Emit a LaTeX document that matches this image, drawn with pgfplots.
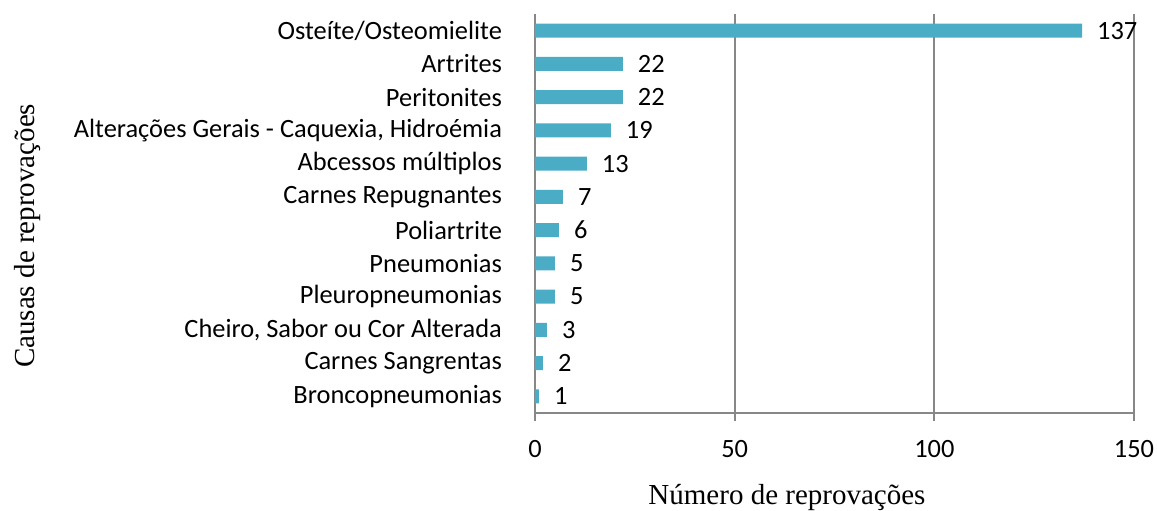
\documentclass[border=0pt]{standalone}
\usepackage{pgfplots}
\pgfplotsset{compat=1.18}
\usepackage{fontspec}
\setmainfont{Carlito}
\newfontfamily\timesf{Liberation Serif}
\definecolor{barc}{HTML}{4BACC6}
\definecolor{gridc}{HTML}{878787}
\begin{document}
\begin{tikzpicture}
\begin{axis}[
  scale only axis,
  width=299.5pt, height=199.5pt,
  xbar, bar width=7pt,
  xmin=0, xmax=150,
  ymin=-0.5, ymax=11.5,
  xtick={0,50,100,150},
  ytick={0,...,11},
  yticklabels={Broncopneumonias,Carnes Sangrentas,{Cheiro, Sabor ou Cor Alterada},Pleuropneumonias,Pneumonias,Poliartrite,Carnes Repugnantes,Abcessos múltiplos,{Alterações Gerais - Caquexia, Hidroémia},Peritonites,Artrites,Osteíte/Osteomielite},
  axis x line*=bottom, axis y line*=left,
  axis line style={gridc, line width=0.9pt},
  xmajorgrids, grid style={gridc, line width=0.9pt},
  major x tick style={gridc, line width=0.9pt},
  major y tick style={draw=none},
  xtick align=outside, major tick length=4pt,
  /pgf/number format/assume math mode=true,
  tick label style={font=\fontsize{13.2}{15}\selectfont},
  xticklabel style={yshift=-6pt},
  yticklabel style={anchor=east, xshift=-9pt},
  nodes near coords,
  every node near coord/.append style={font=\fontsize{13.2}{15}\selectfont, anchor=west, xshift=4pt, black},
  xlabel={\timesf\fontsize{14.5}{16}\selectfont Número de reprovações},
  xlabel style={at={(rel axis cs:0.4207,0)}, anchor=center, yshift=-42.5pt},
  ylabel={\timesf\fontsize{14.5}{16}\selectfont Causas de reprovações},
  ylabel style={at={(rel axis cs:0,0.444)}, anchor=center, yshift=253.5pt},
  clip=false,
]
\addplot[fill=barc, draw=none] coordinates {
(1,0) (2,1) (3,2) (5,3) (5,4) (6,5) (7,6) (13,7) (19,8) (22,9) (22,10) (137,11)};
\end{axis}
\pgfresetboundingbox
\useasboundingbox ([xshift=-267.5pt,yshift=-49pt]current axis.south west) rectangle ([xshift=11.5pt,yshift=7pt]current axis.north east);
\end{tikzpicture}
\end{document}
